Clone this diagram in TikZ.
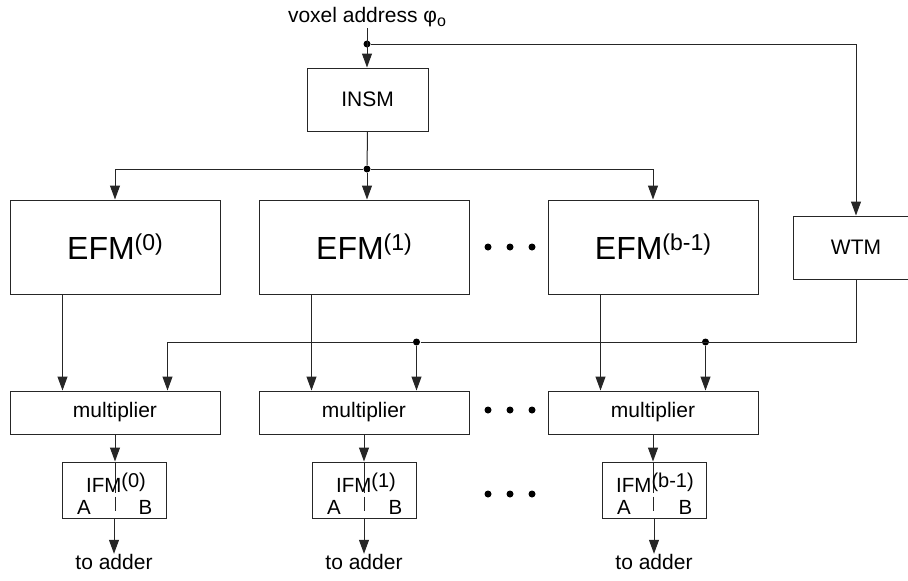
\documentclass[tikz,border=0pt]{standalone}
\usepackage{fontspec}
\setmainfont{Liberation Sans}
\usetikzlibrary{arrows.meta}

% superscripts set in the text font
\newcommand\efmsup[1]{\raisebox{9pt}{\fontsize{23}{23}\selectfont #1}}
\newcommand\ifmsup[1]{\raisebox{5pt}{\fontsize{20}{20}\selectfont #1}}

\begin{document}
\begin{tikzpicture}[x=1pt,y=-1pt,line width=1pt,
  blk/.style={draw=black!85, rectangle, inner sep=0pt,
    font=\fontsize{21}{24}\selectfont},
  efmbox/.style={blk, minimum width=210pt, minimum height=94pt,
    font=\fontsize{32}{35}\selectfont},
  multbox/.style={blk, minimum width=210pt, minimum height=43pt},
  ifmbox/.style={draw=black!85, rectangle, inner sep=0pt,
    minimum width=104pt, minimum height=56pt},
  ifmtxt/.style={inner sep=0pt, anchor=base, font=\fontsize{20.5}{22}\selectfont},
  lbl/.style={inner sep=0pt, anchor=base, font=\fontsize{21}{24}\selectfont},
  arr/.style={draw=black!85, -{Triangle[length=14pt,width=10pt]}},
  wire/.style={draw=black!85},
  jdot/.style={circle, fill=black, inner sep=0pt, minimum size=7pt},
  ddot/.style={circle, fill=black, inner sep=0pt, minimum size=7pt}]

\useasboundingbox (0,0) rectangle (908,581);

% input address
\node[lbl, inner sep=1.5pt] (addr) at (367,22)
  {voxel address φ\raisebox{-4pt}{\fontsize{16}{16}\selectfont o}};

% top level blocks
\node[blk, minimum width=121pt, minimum height=63pt] (insm) at (367.5,99.5) {INSM};
\node[blk, minimum width=126pt, minimum height=63pt] (wtm) at (856,247.5) {WTM};

\node[efmbox] (efm0) at (115,247) {EFM\efmsup{(0)}};
\node[efmbox] (efm1) at (364,247) {EFM\efmsup{(1)}};
\node[efmbox] (efm2) at (653,247) {EFM\efmsup{(b-1)}};

\node[multbox] (m0) at (115,412.5) {multiplier};
\node[multbox] (m1) at (364,412.5) {multiplier};
\node[multbox] (m2) at (653,412.5) {multiplier};

\node[ifmbox] (i0) at (114,490) {};
\node[ifmbox] (i1) at (364,490) {};
\node[ifmbox] (i2) at (654,490) {};

% junctions
\node[jdot] (j1) at (367,44) {};
\node[jdot] (j2) at (367,169) {};
\node[jdot] (j3) at (416.5,342) {};
\node[jdot] (j4) at (705.5,342) {};

% address distribution
\draw[arr] (addr.south) -- (addr.south |- insm.north);
\draw[arr] (j1) -| (wtm.north);
\draw[wire] (insm.south) -- (j2);
\draw[arr] (j2) -| (efm0.north);
\draw[arr] (j2) -- (j2 |- efm1.north);
\draw[arr] (j2) -| (efm2.north);

% weight bus
\coordinate (m0w) at ([xshift=52.5pt]m0.north);
\draw[arr] (wtm.south) |- (j3) -| (m0w);
\draw[wire] (j3) -- (j4);
\draw[arr] (j3) -- (j3 |- m1.north);
\draw[arr] (j4) -- (j4 |- m2.north);

% feature paths
\foreach \k in {0,1,2}{
  \draw[arr] ([xshift=-52.5pt]efm\k.south) -- ([xshift=-52.5pt]m\k.north);
  \draw[arr] (m\k.south) -- (m\k.south |- i\k.north);
  \draw[wire] (m\k.south |- i\k.north) -- ++(0,31);
  \draw[wire] ([yshift=-35pt]m\k.south |- i\k.north) -- ++(0,14);
  \node[ifmtxt] (a\k) at ([xshift=22.5pt,yshift=-53pt]i\k.north west) {A};
  \node[ifmtxt] (b\k) at ([xshift=-21pt,yshift=-53pt]i\k.north east) {B};
  \node[lbl] (t\k) at ([yshift=-51pt]i\k.south) {to adder};
  \draw[arr] (i\k.south) -- (t\k.north);
}
\node[ifmtxt] (l0) at ([xshift=2pt,yshift=-31pt]i0.north) {IFM\ifmsup{(0)}};
\node[ifmtxt] (l1) at ([xshift=2pt,yshift=-31pt]i1.north) {IFM\ifmsup{(1)}};
\node[ifmtxt] (l2) at ([xshift=1pt,yshift=-31pt]i2.north) {IFM\ifmsup{(b-1)}};

% ellipsis dots between the columns
\foreach \y/\r in {247/e,410/m,494/i}{
  \foreach \x/\c in {488/1,510/2,532/3}{
    \node[ddot] (d\r\c) at (\x,\y) {};
  }
}
\end{tikzpicture}
\end{document}
